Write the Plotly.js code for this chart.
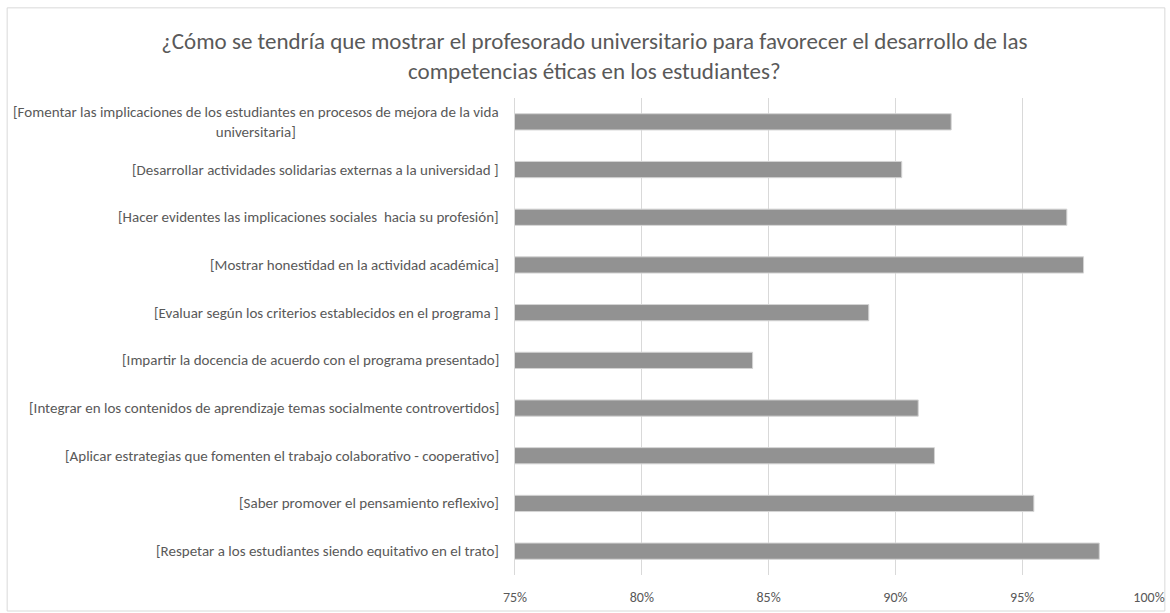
<!DOCTYPE html>
<html>
<head>
<meta charset="utf-8">
<script src="https://cdn.plot.ly/plotly-3.0.1.min.js"></script>
<style>
  html, body { margin: 0; padding: 0; background: #ffffff; }
  #chart { width: 1170px; height: 613px; }
</style>
</head>
<body>
<div id="chart"></div>
<script>
// Items, listed from top to bottom
const items = [
  "[Fomentar las implicaciones de los estudiantes en procesos de mejora de la vida<br>universitaria]",
  "[Desarrollar actividades solidarias externas a la universidad ]",
  "[Hacer evidentes las implicaciones sociales  hacia su profesión]",
  "[Mostrar honestidad en la actividad académica]",
  "[Evaluar según los criterios establecidos en el programa ]",
  "[Impartir la docencia de acuerdo con el programa presentado]",
  "[Integrar en los contenidos de aprendizaje temas socialmente controvertidos]",
  "[Aplicar estrategias que fomenten el trabajo colaborativo - cooperativo]",
  "[Saber promover el pensamiento reflexivo]",
  "[Respetar a los estudiantes siendo equitativo en el trato]"
];

// Share of agreement (%)
const shares = [92.2, 90.25, 96.76, 97.42, 88.95, 84.37, 90.9, 91.54, 95.46, 98.04];

// X axis ticks (%)
const tickValues = [75, 80, 85, 90, 95, 100];

const fontFamily = "Carlito, Lato, 'Open Sans', sans-serif";
const textColor = "#595959";

const trace = {
  type: "bar",
  orientation: "h",
  y: items,
  x: shares,
  base: 0,
  marker: { color: "#929292", line: { color: "#d4d4d4", width: 1 } },
  hoverinfo: "x+y"
};

// Category labels drawn as centred multi-line text, right-aligned against the axis
const labelAnnotations = items.map(function (name) {
  return {
    xref: "paper", yref: "y",
    x: -0.022, y: name,
    xanchor: "right", yanchor: "middle",
    align: "center",
    text: name,
    showarrow: false,
    font: { family: fontFamily, size: 15, color: textColor }
  };
});

const layout = {
  width: 1170,
  height: 613,
  paper_bgcolor: "#ffffff",
  plot_bgcolor: "#ffffff",
  margin: { l: 515, r: 21, t: 98, b: 38 },
  showlegend: false,
  bargap: 0.66,
  title: {
    text: "¿Cómo se tendría que mostrar el profesorado universitario para favorecer el desarrollo de las<br>competencias éticas en los estudiantes?",
    x: 0.508, xanchor: "center",
    y: 0.92, yanchor: "top",
    font: { family: fontFamily, size: 23, color: textColor }
  },
  xaxis: {
    range: [75, 100],
    tickvals: tickValues,
    ticktext: tickValues.map(function (v) { return v + "%"; }),
    showgrid: true,
    gridcolor: "#d9d9d9",
    gridwidth: 1,
    zeroline: false,
    showline: false,
    ticks: "",
    ticklabelstandoff: 12,
    tickfont: { family: fontFamily, size: 14, color: textColor },
    fixedrange: true
  },
  yaxis: {
    type: "category",
    autorange: "reversed",
    showticklabels: false,
    showgrid: false,
    zeroline: false,
    showline: true,
    linecolor: "#d9d9d9",
    linewidth: 1,
    ticks: "",
    fixedrange: true
  },
  annotations: labelAnnotations,
  shapes: [{
    type: "rect",
    xref: "paper", yref: "paper",
    x0: -0.801, x1: 1.025,
    y0: -0.0755, y1: 1.189,
    line: { color: "#d9d9d9", width: 1 },
    fillcolor: "rgba(0,0,0,0)",
    layer: "below"
  }]
};

Plotly.newPlot("chart", [trace], layout, { displayModeBar: false, staticPlot: true });
</script>
</body>
</html>
